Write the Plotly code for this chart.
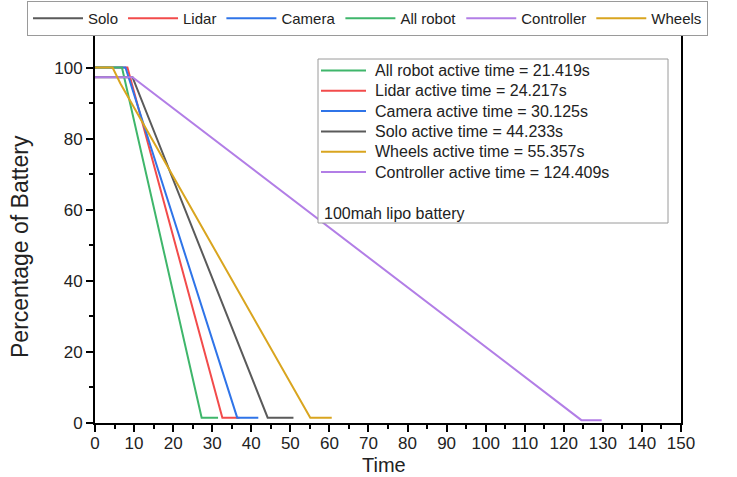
import plotly.graph_objects as go

# ---- data (time in s, battery in %) ----
solo_t = [0, 9.6, 44.2, 50.8]
solo_pct = [97.3, 97.3, 1.5, 1.5]
lidar_t = [0, 8.3, 32.6, 37.0]
lidar_pct = [100, 100, 1.5, 1.5]
camera_t = [0, 7.8, 36.4, 41.8]
camera_pct = [100, 100, 1.5, 1.5]
allrobot_t = [0, 6.9, 27.3, 31.5]
allrobot_pct = [100, 100, 1.5, 1.5]
controller_t = [0, 9.6, 124.5, 129.7]
controller_pct = [97.3, 97.3, 0.8, 0.8]
wheels_t = [0, 4.5, 6.5, 55.1, 60.6]
wheels_pct = [100, 100, 95.5, 1.5, 1.5]

series_names = ["Solo", "Lidar", "Camera", "All robot", "Controller", "Wheels"]
series_t = [solo_t, lidar_t, camera_t, allrobot_t, controller_t, wheels_t]
series_pct = [solo_pct, lidar_pct, camera_pct, allrobot_pct, controller_pct, wheels_pct]
colors = ["#5a5a5a", "#f24b4b", "#2f74e8", "#3fb66b", "#b27ee6", "#d9a51f"]

active_order = ["All robot", "Lidar", "Camera", "Solo", "Wheels", "Controller"]
active_times = ["21.419", "24.217", "30.125", "44.233", "55.357", "124.409"]
note_text = "100mah lipo battery"
x_title = "Time"
y_title = "Percentage of Battery"

x_ticks = list(range(0, 151, 10))
y_ticks = list(range(0, 101, 20))

FONT = "Liberation Sans, Arial, sans-serif"
W, H = 737, 477
ML, MR, MT, MB = 95, 56, 32, 54
PW, PH = W - ML - MR, H - MT - MB


def px(xpix):
    return (xpix - ML) / PW


def py(ypix):
    return (H - MB - ypix) / PH


fig = go.Figure()
for name, t, p, c in zip(series_names, series_t, series_pct, colors):
    fig.add_trace(go.Scatter(x=t, y=p, mode="lines", name=name,
                             line=dict(color=c, width=2)))

axis_common = dict(
    showline=True, linecolor="black", linewidth=2, mirror=True,
    ticks="outside", ticklen=7, tickwidth=2, tickcolor="black",
    showgrid=False, zeroline=False, automargin=False,
    tickfont=dict(family=FONT, size=17, color="#222"),
)

fig.update_xaxes(range=[0, 150], tickvals=x_ticks, ticklabelstandoff=-3,
                 minor=dict(dtick=5, ticks="outside", ticklen=4, tickwidth=2, tickcolor="black"),
                 **axis_common)
fig.update_yaxes(range=[0, 110], tickvals=y_ticks,
                 minor=dict(dtick=10, ticks="outside", ticklen=4, tickwidth=2, tickcolor="black"),
                 **axis_common)

# axis titles
fig.add_annotation(text=x_title, xref="paper", yref="paper",
                   x=px(384), y=py(476.5), xanchor="center", yanchor="bottom", showarrow=False,
                   borderpad=0, font=dict(family=FONT, size=20, color="#222"))
fig.add_annotation(text=y_title, xref="paper", yref="paper", textangle=-90,
                   x=px(20), y=py(247), xanchor="center", yanchor="middle", showarrow=False,
                   font=dict(family=FONT, size=23, color="#222"))

# inset box
fig.add_shape(type="rect", xref="paper", yref="paper",
              x0=px(318), x1=px(668), y0=py(223), y1=py(59),
              line=dict(color="#9a9a9a", width=1), fillcolor="white", layer="above")

# inset entries
row0, step = 70.5, 20.3
for i, (name, at) in enumerate(zip(active_order, active_times)):
    c = colors[series_names.index(name)]
    yy = py(row0 + step * i)
    fig.add_shape(type="line", xref="paper", yref="paper",
                  x0=px(321), x1=px(366), y0=yy, y1=yy,
                  line=dict(color=c, width=2), layer="above")
    fig.add_annotation(text=f"{name} active time = {at}s", xref="paper", yref="paper",
                       x=px(373), y=yy, xanchor="left", yanchor="middle", showarrow=False,
                       font=dict(family=FONT, size=16, color="#222"))

fig.add_annotation(text=note_text, xref="paper", yref="paper",
                   x=px(322), y=py(213), xanchor="left", yanchor="middle", showarrow=False,
                   font=dict(family=FONT, size=16, color="#222"))

fig.update_layout(
    width=W, height=H,
    margin=dict(l=ML, r=MR, t=MT, b=MB, autoexpand=False),
    paper_bgcolor="white", plot_bgcolor="white",
    font=dict(family=FONT, color="#222"),
    showlegend=True,
    legend=dict(orientation="h", x=px(27), xanchor="left", y=py(1), yanchor="top",
                bgcolor="white", bordercolor="#9a9a9a", borderwidth=1,
                font=dict(family=FONT, size=15, color="#222"), itemwidth=50,
                tracegroupgap=0),
)

fig.write_html("out.html")
